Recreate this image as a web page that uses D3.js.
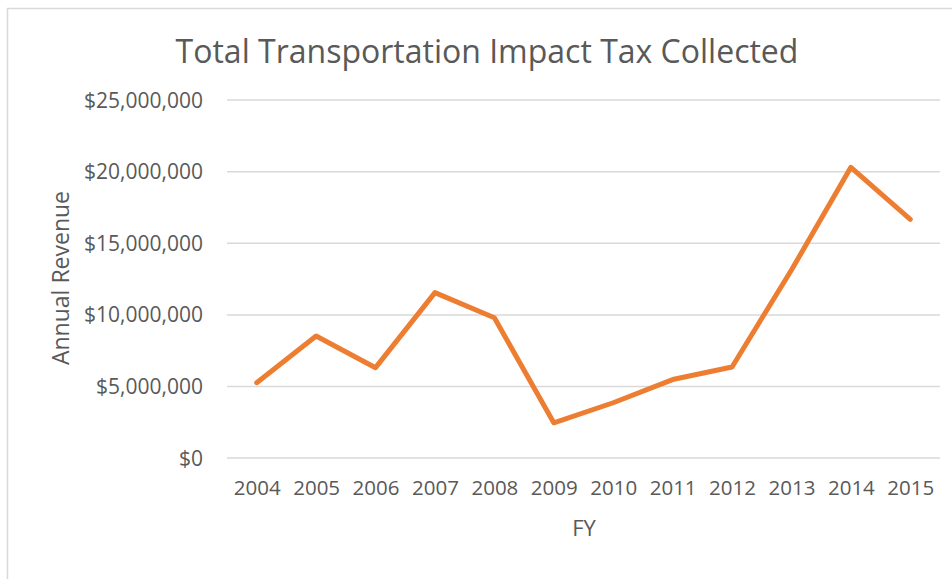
<!DOCTYPE html>
<html>
<head>
<meta charset="utf-8">
<script src="https://d3js.org/d3.v7.min.js"></script>
<style>
  body { margin: 0; background: #fff; }
  text { font-family: "Open Sans", sans-serif; fill: #595959; }
</style>
</head>
<body>
<script>
var years = ["2004", "2005", "2006", "2007", "2008", "2009", "2010", "2011", "2012", "2013", "2014", "2015"];
var revenue = [5230000, 8490000, 6280000, 11520000, 9770000, 2430000, 3830000, 5450000, 6330000, 13100000, 20270000, 16640000];
var yTicks = [0, 5000000, 10000000, 15000000, 20000000, 25000000];

var w = 952;
var h = 579;

var svg = d3.select("body")
			.append("svg")
			.attr("width", w)
			.attr("height", h);

// chart frame, only left and top edges show in the picture
svg.append("rect")
	.attr("x", 7.5)
	.attr("y", 8.5)
	.attr("width", w + 20)
	.attr("height", h + 20)
	.attr("fill", "none")
	.attr("stroke", "#d9d9d9")
	.attr("stroke-width", 1.5);

var plotLeft = 227, plotRight = 940, plotTop = 99.6, plotBottom = 457.6;

var x = d3.scalePoint()
	.domain(years)
	.range([plotLeft, plotRight])
	.padding(0.5);

var y = d3.scaleLinear()
	.domain([0, 25000000])
	.range([plotBottom, plotTop]);

var money = d3.format("$,");

// gridlines + y labels
var yAxis = svg.append("g")
	.attr("transform", "translate(" + plotLeft + ",0)")
	.call(d3.axisLeft(y).tickValues(yTicks).tickSize(-(plotRight - plotLeft)).tickPadding(24).tickFormat(money));
yAxis.select(".domain").remove();
yAxis.selectAll("line").attr("stroke", "#d9d9d9").attr("stroke-width", 1.5);
yAxis.selectAll("text")
	.attr("font-size", 21)
	.attr("fill", "#595959")
	.attr("font-family", "Open Sans")
	.attr("dy", "0.36em");

var xAxis = svg.append("g")
	.attr("transform", "translate(0," + plotBottom + ")")
	.call(d3.axisBottom(x).tickSize(0).tickPadding(23));
xAxis.select(".domain").remove();
xAxis.selectAll("text")
	.attr("font-size", 20.5)
	.attr("fill", "#595959")
	.attr("font-family", "Open Sans");

var line = d3.line()
	.x(function(d, i) { return x(years[i]); })
	.y(function(d) { return y(d); });

svg.append("path")
	.datum(revenue)
	.attr("d", line)
	.attr("fill", "none")
	.attr("stroke", "#ed7d31")
	.attr("stroke-width", 5)
	.attr("stroke-linejoin", "round")
	.attr("stroke-linecap", "round");

svg.append("text")
	.text("Total Transportation Impact Tax Collected")
	.attr("x", 487)
	.attr("y", 63)
	.attr("text-anchor", "middle")
	.attr("font-size", 32);

svg.append("text")
	.text("Annual Revenue")
	.attr("transform", "translate(69,278) rotate(-90)")
	.attr("text-anchor", "middle")
	.attr("font-size", 23);

svg.append("text")
	.text("FY")
	.attr("x", 584)
	.attr("y", 536)
	.attr("text-anchor", "middle")
	.attr("font-size", 22);
</script>
</body>
</html>
